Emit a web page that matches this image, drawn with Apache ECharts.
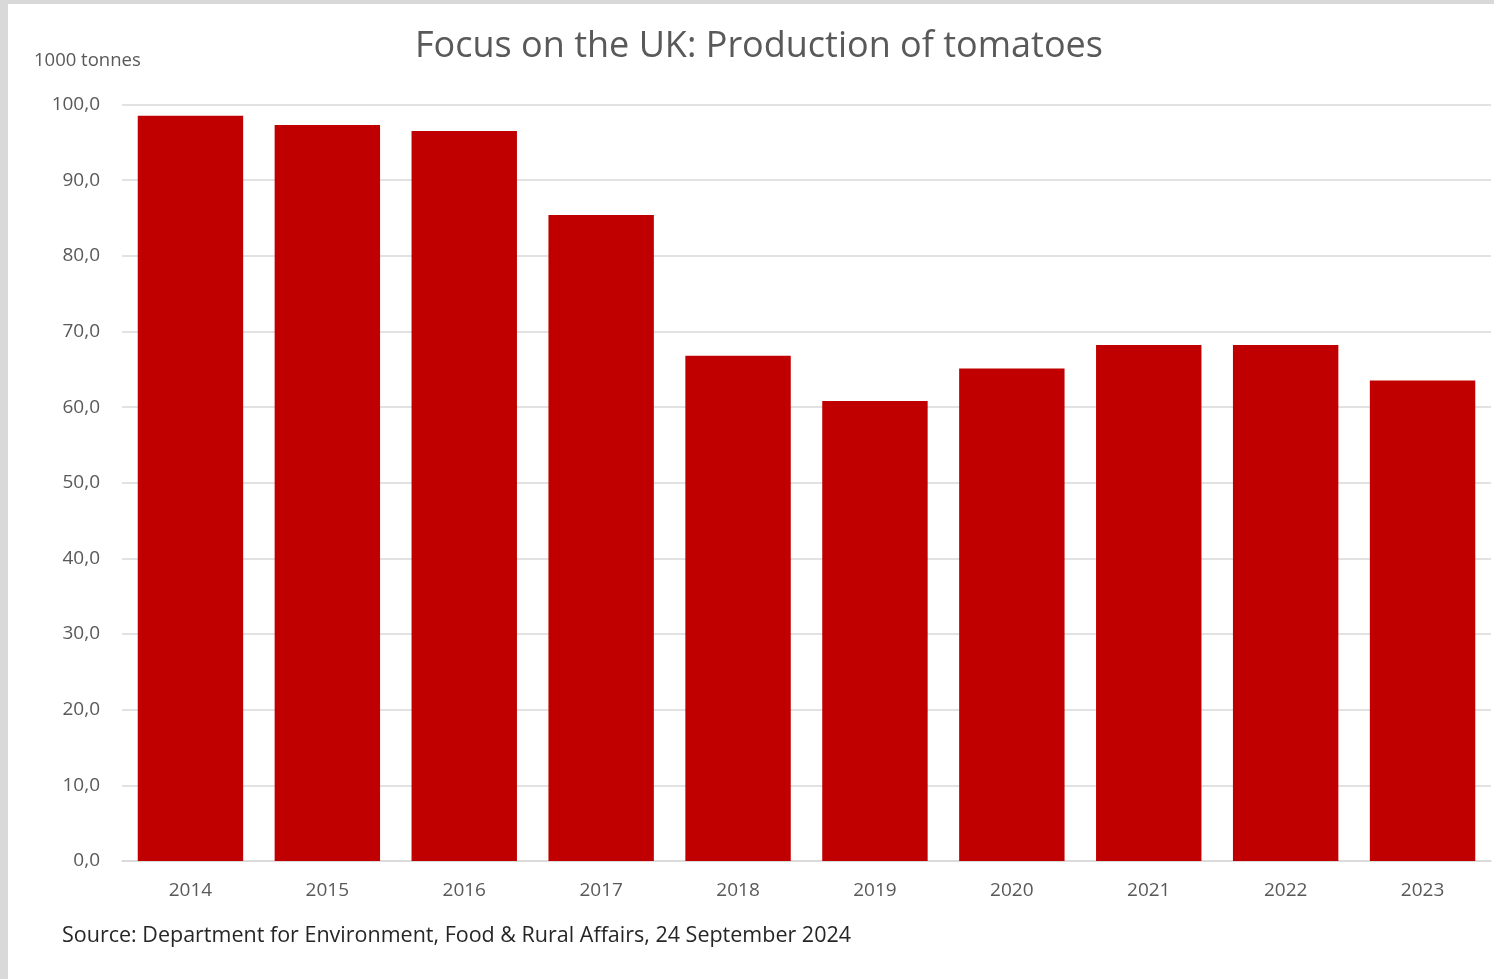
<!DOCTYPE html>
<html>
<head>
<meta charset="utf-8">
<script src="https://cdn.jsdelivr.net/npm/echarts@6/dist/echarts.min.js"></script>
<style>
  html, body { margin: 0; padding: 0; background: #d9d9d9; }
  #chart { position: absolute; left: 8px; top: 4px; width: 1486px; height: 975px; background: #fff; }
</style>
</head>
<body>
<div id="chart"></div>
<script>
// data (1000 tonnes)
const years = ['2014', '2015', '2016', '2017', '2018', '2019', '2020', '2021', '2022', '2023']
const production = [98.5, 97.3, 96.5, 85.4, 66.8, 60.8, 65.1, 68.2, 68.2, 63.5]

const titleText = 'Focus on the UK: Production of tomatoes'
const unitText = '1000 tonnes'
const sourceText = 'Source: Department for Environment, Food & Rural Affairs, 24 September 2024'

const font = '"Open Sans", "Noto Sans", sans-serif'

const chart = echarts.init(document.getElementById('chart'))

chart.setOption({
  animation: false,
  title: {
    text: titleText,
    left: 407,
    top: 25,
    padding: 0,
    textStyle: { fontFamily: font, fontSize: 36, fontWeight: 'normal', color: '#595959' }
  },
  graphic: [
    {
      type: 'text', left: 26, top: 47,
      style: { text: unitText, fontFamily: font, fontSize: 18.5, fill: '#595959' }
    },
    {
      type: 'text', left: 54, top: 921,
      style: { text: sourceText, fontFamily: font, fontSize: 21.5, fill: '#262626' }
    }
  ],
  grid: { left: 114, right: 3, top: 100.5, bottom: 118 },
  xAxis: {
    type: 'category',
    data: years,
    axisLine: { lineStyle: { color: '#d9d9d9', width: 1.5 } },
    axisTick: { show: false },
    axisLabel: { margin: 20, fontFamily: font, fontSize: 19, color: '#595959' }
  },
  yAxis: {
    type: 'value',
    min: 0,
    max: 100,
    interval: 10,
    axisLine: { show: false },
    axisTick: { show: false },
    splitLine: { lineStyle: { color: '#d9d9d9', width: 1.5 } },
    axisLabel: {
      margin: 22, fontFamily: font, fontSize: 19, color: '#595959',
      formatter: v => v.toFixed(1).replace('.', ',')
    }
  },
  series: [
    {
      type: 'bar',
      data: production,
      barCategoryGap: '23%',
      itemStyle: { color: '#c00000' }
    }
  ]
})
</script>
</body>
</html>
